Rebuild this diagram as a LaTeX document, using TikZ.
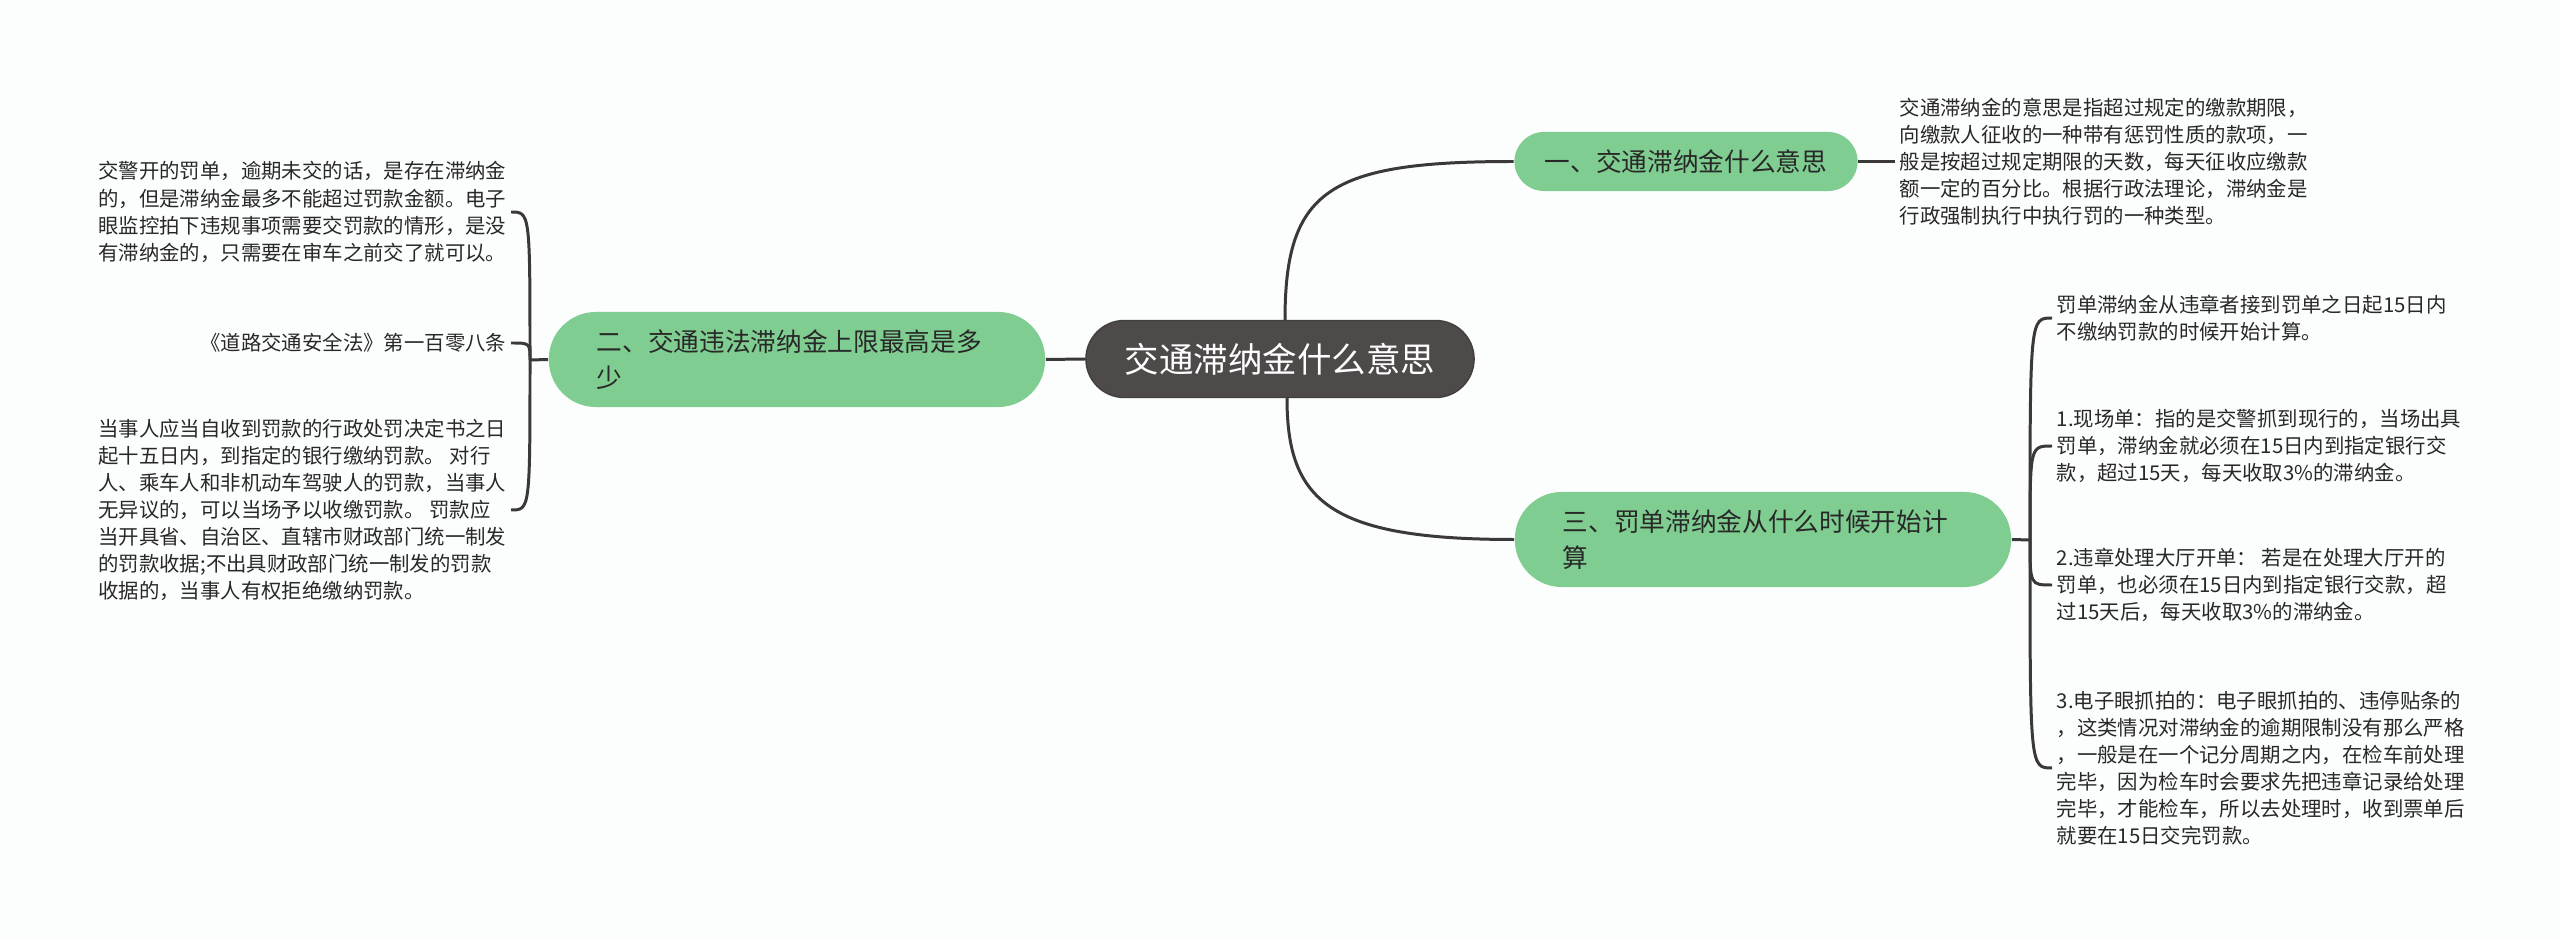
\documentclass[tikz,border=0pt]{standalone}
\usepackage{fontspec}
\setmainfont{Noto Sans CJK SC}
\definecolor{bg}{RGB}{252,253,253}
\definecolor{rootc}{RGB}{79,74,74}
\definecolor{topicc}{RGB}{127,205,145}
\definecolor{linec}{RGB}{58,56,56}
\definecolor{txt}{RGB}{40,40,40}
\begin{document}
\begin{tikzpicture}[x=.01cm,y=-.01cm,
 conn/.style={draw=linec,line width=.85pt},
 root/.style={fill=rootc,draw=rootc!85!black,rounded corners=.385cm,minimum width=3.88cm,minimum height=.77cm,text=white,font=\fontsize{9.8}{12}\selectfont},
 topic/.style={fill=topicc,text=txt,font=\fontsize{7.3}{10.2}\selectfont},
 onetopic/.style={topic,rounded corners=.295cm,minimum width=3.43cm,minimum height=.59cm},
 twotopic/.style={topic,rounded corners=.47cm,text width=4cm,inner xsep=.48cm,minimum height=.95cm,align=left},
 leaf/.style={text=txt,align=left,inner sep=.04cm,font=\fontsize{5.8}{7.7}\selectfont}]
\fill[bg](0,0)rectangle(2560,940);
% main topics
\node[root](root)at(1280,359){交通滞纳金什么意思};
\node[onetopic](n1)at(1686,161.5){一、交通滞纳金什么意思};
\node[twotopic](n2)at(797,359.5){二、交通违法滞纳金上限最高是多\\少};
\node[twotopic](n3)at(1763,539.5){三、罚单滞纳金从什么时候开始计\\算};
% leaves
\node[leaf,anchor=west](l1)at(1895,162){交通滞纳金的意思是指超过规定的缴款期限，\\向缴款人征收的一种带有惩罚性质的款项，一\\般是按超过规定期限的天数，每天征收应缴款\\额一定的百分比。根据行政法理论，滞纳金是\\行政强制执行中执行罚的一种类型。};
\node[leaf,anchor=east](la)at(511,212){交警开的罚单，逾期未交的话，是存在滞纳金\\的，但是滞纳金最多不能超过罚款金额。电子\\眼监控拍下违规事项需要交罚款的情形，是没\\有滞纳金的，只需要在审车之前交了就可以。};
\node[leaf,anchor=east](lb)at(511,343){《道路交通安全法》第一百零八条};
\node[leaf,anchor=east](lc)at(511,510){当事人应当自收到罚款的行政处罚决定书之日\\起十五日内，到指定的银行缴纳罚款。 对行\\人、乘车人和非机动车驾驶人的罚款，当事人\\无异议的，可以当场予以收缴罚款。 罚款应\\当开具省、自治区、直辖市财政部门统一制发\\的罚款收据;不出具财政部门统一制发的罚款\\收据的，当事人有权拒绝缴纳罚款。};
\node[leaf,anchor=west](ra)at(2052,318){罚单滞纳金从违章者接到罚单之日起15日内\\不缴纳罚款的时候开始计算。};
\node[leaf,anchor=west](rb)at(2052,446){1.现场单：指的是交警抓到现行的，当场出具\\罚单，滞纳金就必须在15日内到指定银行交\\款，超过15天，每天收取3\%的滞纳金。};
\node[leaf,anchor=west](rc)at(2052,585){2.违章处理大厅开单： 若是在处理大厅开的\\罚单，也必须在15日内到指定银行交款，超\\过15天后，每天收取3\%的滞纳金。};
\node[leaf,anchor=west](rd)at(2052,768){3.电子眼抓拍的：电子眼抓拍的、违停贴条的\\，这类情况对滞纳金的逾期限制没有那么严格\\，一般是在一个记分周期之内，在检车前处理\\完毕，因为检车时会要求先把违章记录给处理\\完毕，才能检车，所以去处理时，收到票单后\\就要在15日交完罚款。};
\coordinate(j2)at(530,360);\coordinate(j3)at(2030,540);
% connectors
\draw[conn](n2.east)--(root.west);
\draw[conn]([xshift=.05cm]root.north)..controls +(0,-130)and +(-185,0)..(n1.west);
\draw[conn]([xshift=.07cm]root.south)..controls +(0,103)and +(-185,0)..(n3.west);
\draw[conn](n1.east)--(n1.east-|l1.west);
\draw[conn](n2.west)--(j2);\draw[conn](n3.east)--(j3);
\foreach \l in {la,lb,lc}\draw[conn](j2)..controls(j2|-\l.east)..(\l.east);
\foreach \r in {ra,rb,rc,rd}\draw[conn](j3)..controls(j3|-\r.west)..(\r.west);
\end{tikzpicture}
\end{document}
